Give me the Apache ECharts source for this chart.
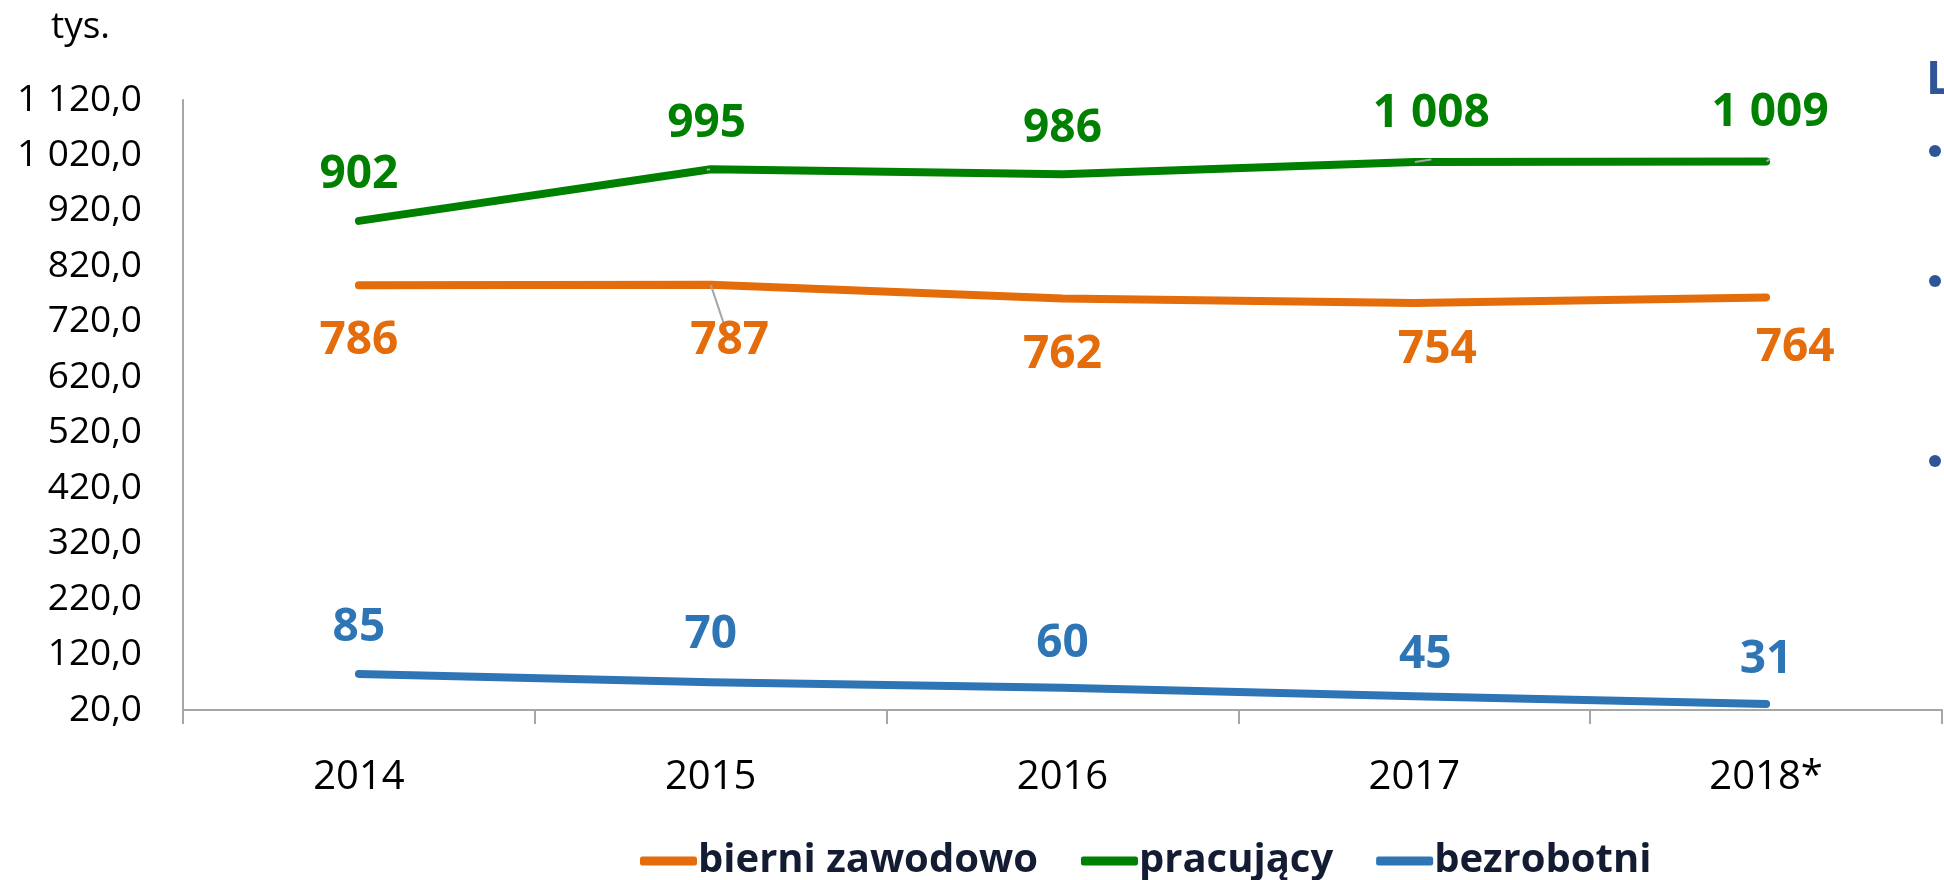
<!DOCTYPE html>
<html lang="pl">
  <head>
    <meta charset="UTF-8" />
    <title>Ludność według aktywności ekonomicznej</title>
    <script src="https://cdn.jsdelivr.net/npm/echarts@6/dist/echarts.min.js"></script>
    <style>
      html, body { margin: 0; padding: 0; background: #fff; }
      #main { width: 1944px; height: 880px; }
    </style>
  </head>
  <body>
    <div id="main"></div>
    <script>
      // dane
      const years = ["2014", "2015", "2016", "2017", "2018*"];
      const bierni = [786, 787, 762, 754, 764];
      const pracujacy = [902, 995, 986, 1008, 1009];
      const bezrobotni = [85, 70, 60, 45, 31];

      // przesunięcia etykiet (jak w oryginale) i linie odniesienia
      const nudgeBierni = [[0, 5], [19, 6], [0, 6], [23, -4], [29, 0]];
      const nudgePracujacy = [[0, 4], [-4, 5], [0, 5], [17, 2], [4, 2]];
      const nudgeBezrobotni = [[0, 4], [0, 3], [0, 7], [11, 9], [0, 6]];
      const leaderBierni = [false, true, false, false, false];
      const leaderPracujacy = [false, true, false, true, true];

      const FONT = "'Open Sans', 'Noto Sans', sans-serif";

      // separator tysięcy: spacja
      const fmtInt = (v) => String(Math.round(v)).replace(/\B(?=(\d{3})+(?!\d))/g, " ");
      const fmtAxis = (v) => {
        const parts = v.toFixed(1).split(".");
        return parts[0].replace(/\B(?=(\d{3})+(?!\d))/g, " ") + "," + parts[1];
      };

      const buildData = (values, nudges, leaders) =>
        values.map((v, i) => ({
          value: v,
          label: { offset: nudges[i] },
          labelLine: { show: !!(leaders && leaders[i]) },
        }));

      const makeSeries = (name, color, values, nudges, leaders, pos) => ({
        name: name,
        type: "line",
        data: buildData(values, nudges, leaders),
        symbol: "circle",
        symbolSize: 1,
        showSymbol: true,
        itemStyle: { color: color },
        lineStyle: { color: color, width: 8, cap: "round", join: "round" },
        label: {
          show: true,
          position: pos,
          distance: 27,
          color: color,
          fontFamily: FONT,
          fontWeight: "bold",
          fontSize: 46,
          formatter: (p) => fmtInt(p.value),
        },
        labelLine: {
          show: false,
          lineStyle: { color: "#a6a6a6", width: 2 },
        },
        emphasis: { disabled: true },
      });

      const chart = echarts.init(document.getElementById("main"));

      const option = {
        animation: false,
        title: {
          text: "tys.",
          left: 46,
          top: 4,
          textStyle: { fontFamily: FONT, fontWeight: "normal", fontSize: 37, color: "#000" },
        },
        legend: {
          left: 635,
          top: 836,
          itemWidth: 57,
          itemHeight: 9,
          itemGap: 43,
          icon: "roundRect",
          textStyle: {
            fontFamily: FONT,
            fontWeight: "bold",
            fontSize: 40,
            color: "#141c33",
            padding: [0, 0, 0, -4],
          },
          data: ["bierni zawodowo", "pracujący", "bezrobotni"],
        },
        grid: { left: 183, right: 2, top: 100, bottom: 170, containLabel: false },
        xAxis: {
          type: "category",
          data: years,
          boundaryGap: true,
          axisLine: { show: true, lineStyle: { color: "#a6a6a6", width: 2 } },
          axisTick: { show: true, length: 14, lineStyle: { color: "#a6a6a6", width: 2 } },
          axisLabel: { margin: 48, color: "#000", fontFamily: FONT, fontSize: 40 },
        },
        yAxis: {
          type: "value",
          min: 20,
          max: 1120,
          interval: 100,
          axisLine: { show: true, lineStyle: { color: "#a6a6a6", width: 2 } },
          axisTick: { show: false },
          splitLine: { show: false },
          axisLabel: {
            margin: 41,
            color: "#000",
            fontFamily: FONT,
            fontSize: 37,
            formatter: fmtAxis,
          },
        },
        graphic: [
          {
            type: "text",
            left: 1926,
            top: 58,
            style: { text: "L", fill: "#2f5597", font: "bold 46px " + FONT },
          },
          { type: "circle", shape: { cx: 1935, cy: 151, r: 6 }, style: { fill: "#2f5597" } },
          { type: "circle", shape: { cx: 1935, cy: 281, r: 6 }, style: { fill: "#2f5597" } },
          { type: "circle", shape: { cx: 1935, cy: 461, r: 6 }, style: { fill: "#2f5597" } },
        ],
        series: [
          makeSeries("bierni zawodowo", "#e46c0a", bierni, nudgeBierni, leaderBierni, "bottom"),
          makeSeries("pracujący", "#008000", pracujacy, nudgePracujacy, leaderPracujacy, "top"),
          makeSeries("bezrobotni", "#2e75b6", bezrobotni, nudgeBezrobotni, null, "top"),
        ],
      };

      chart.setOption(option);
      window.addEventListener("resize", () => chart.resize());
    </script>
  </body>
</html>
